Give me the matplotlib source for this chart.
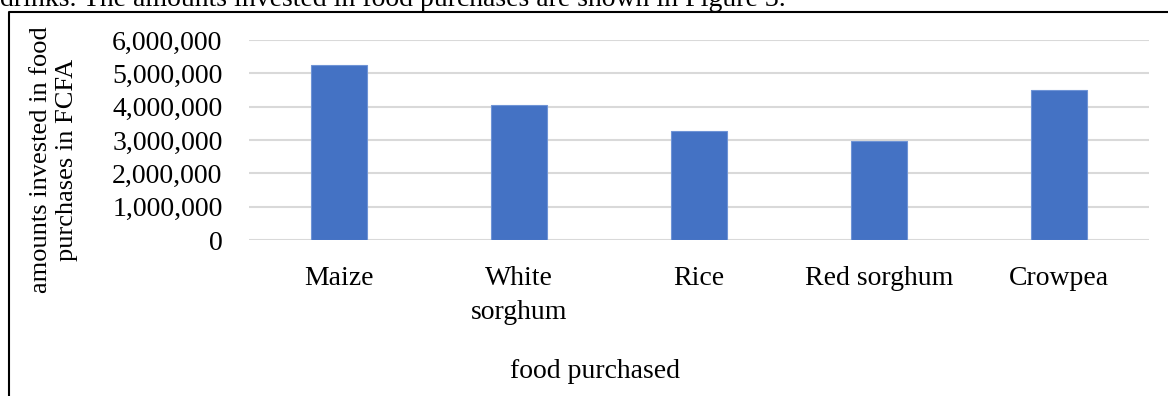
import numpy as np
import matplotlib
matplotlib.use('Agg')
import matplotlib.pyplot as plt
from matplotlib.lines import Line2D
from matplotlib.ticker import FuncFormatter

foods = ['Maize', 'White\nsorghum', 'Rice', 'Red sorghum', 'Crowpea']
amounts = [5250000, 4040000, 3270000, 2960000, 4490000]
y_ticks = [0, 1000000, 2000000, 3000000, 4000000, 5000000, 6000000]

W, H = 1168, 396
plt.rcParams['font.family'] = ['Liberation Serif', 'DejaVu Serif']

fig = plt.figure(figsize=(W / 100, H / 100), dpi=100)

# plot area in pixel coords of the reference
left, right, top, bottom = 249, 1149, 40, 240
ax = fig.add_axes([left / W, 1 - bottom / H, (right - left) / W, (bottom - top) / H])

x = np.arange(len(foods))
ax.bar(x, amounts, width=0.31, color='#4472C4', edgecolor='#6f94d6', linewidth=0.8, zorder=3)
ax.set_xlim(-0.5, len(foods) - 0.5)
ax.set_ylim(0, 6000000)
ax.set_yticks(y_ticks)
ax.yaxis.set_major_formatter(FuncFormatter(lambda v, p: '{:,.0f}'.format(v)))
ax.grid(axis='y', color='#d9d9d9', linewidth=1.5, zorder=0)
ax.set_xticks(x)
ax.set_xticklabels(foods, linespacing=1.45)
for s in ax.spines.values():
    s.set_visible(False)
ax.tick_params(axis='y', length=0, pad=19, labelsize=20)
ax.tick_params(axis='x', length=0, pad=19, labelsize=20)

fig.text(54 / W, 1 - 160 / H, 'amounts invested in food\npurchases in FCFA', rotation=90,
         ha='center', va='center', multialignment='center', fontsize=19, linespacing=1.2)
fig.text(595 / W, 1 - 372 / H, 'food purchased', ha='center', va='center', fontsize=20)

# cropped body text above the figure box
fig.text(0, 1 - 6 / H, 'drinks. The amounts invested in food purchases are shown in Figure 3.',
         ha='left', va='baseline', fontsize=20)

# chart border (left and top visible)
fig.add_artist(Line2D([9 / W, 9 / W, 1.0], [0.0, 1 - 12 / H, 1 - 12 / H],
                      transform=fig.transFigure, color='black', linewidth=1.5))

fig.savefig('out.png', dpi=100)
